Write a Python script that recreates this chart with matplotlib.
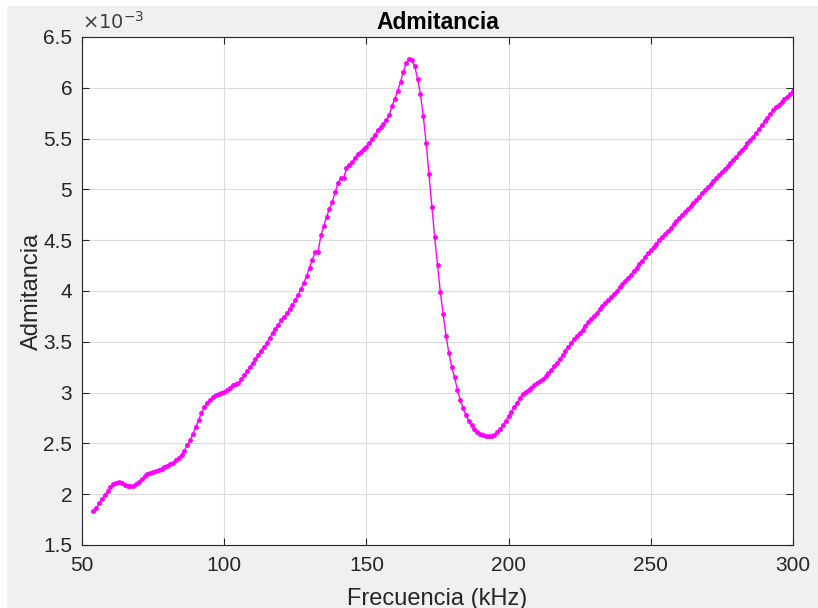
import numpy as np
import matplotlib
matplotlib.use('Agg')
import matplotlib.pyplot as plt
from matplotlib.ticker import FuncFormatter

# Frecuencia en kHz (paso de 1 kHz) y admitancia en unidades de 1e-3
frecuencia = np.arange(54, 301)
admitancia = [
    1.83, 1.86, 1.91, 1.95, 1.99, 2.03, 2.07, 2.10, 2.115, 2.12,          # 54-63
    2.11, 2.09, 2.08, 2.08, 2.085, 2.10, 2.12, 2.15, 2.175, 2.195,        # 64-73
    2.21, 2.215, 2.225, 2.235, 2.25, 2.265, 2.28, 2.295, 2.31, 2.335,     # 74-83
    2.36, 2.39, 2.43, 2.48, 2.53, 2.59, 2.66, 2.73, 2.80, 2.86,           # 84-93
    2.90, 2.93, 2.955, 2.975, 2.99, 3.00, 3.01, 3.03, 3.05, 3.07,         # 94-103
    3.08, 3.09, 3.13, 3.17, 3.21, 3.25, 3.29, 3.33, 3.37, 3.41,           # 104-113
    3.45, 3.49, 3.54, 3.59, 3.63, 3.67, 3.71, 3.74, 3.78, 3.82,           # 114-123
    3.86, 3.91, 3.96, 4.02, 4.08, 4.15, 4.23, 4.31, 4.38, 4.38,           # 124-133
    4.55, 4.64, 4.73, 4.81, 4.88, 4.97, 5.06, 5.11, 5.11, 5.21,           # 134-143
    5.24, 5.27, 5.31, 5.35, 5.37, 5.40, 5.42, 5.46, 5.50, 5.54,           # 144-153
    5.58, 5.61, 5.64, 5.68, 5.73, 5.82, 5.89, 5.97, 6.06, 6.16,           # 154-163
    6.24, 6.28, 6.27, 6.21, 6.09, 5.94, 5.72, 5.46, 5.15, 4.83,           # 164-173
    4.53, 4.26, 3.99, 3.77, 3.56, 3.39, 3.25, 3.15, 3.03, 2.93,           # 174-183
    2.85, 2.78, 2.72, 2.68, 2.64, 2.61, 2.59, 2.58, 2.575, 2.575,         # 184-193
    2.575, 2.58, 2.61, 2.64, 2.68, 2.72, 2.77, 2.81, 2.86, 2.90,          # 194-203
    2.95, 2.99, 3.01, 3.03, 3.05, 3.07, 3.09, 3.11, 3.13, 3.16,           # 204-213
    3.19, 3.22, 3.26, 3.29, 3.33, 3.37, 3.41, 3.45, 3.49, 3.525,          # 214-223
    3.56, 3.59, 3.62, 3.66, 3.69, 3.72, 3.75, 3.78, 3.82, 3.85,           # 224-233
    3.88, 3.91, 3.94, 3.97, 4.00, 4.04, 4.07, 4.10, 4.13, 4.16,           # 234-243
    4.20, 4.23, 4.27, 4.30, 4.33, 4.37, 4.40, 4.43, 4.46, 4.50,           # 244-253
    4.53, 4.56, 4.59, 4.62, 4.66, 4.69, 4.72, 4.75, 4.78, 4.81,           # 254-263
    4.84, 4.87, 4.90, 4.93, 4.96, 4.99, 5.02, 5.05, 5.08, 5.11,           # 264-273
    5.14, 5.17, 5.20, 5.23, 5.26, 5.29, 5.32, 5.355, 5.39, 5.42,          # 274-283
    5.455, 5.49, 5.52, 5.56, 5.59, 5.63, 5.67, 5.70, 5.74, 5.78,          # 284-293
    5.81, 5.83, 5.86, 5.89, 5.91, 5.94, 5.97,                             # 294-300
]

xticks = [50, 100, 150, 200, 250, 300]
yticks = [1.5, 2, 2.5, 3, 3.5, 4, 4.5, 5, 5.5, 6, 6.5]

plt.rcParams['font.family'] = ['Liberation Sans', 'DejaVu Sans']

fig = plt.figure(figsize=(8.18, 6.08), dpi=100)
fig.patch.set_facecolor('white')
# fondo gris estilo MATLAB (borde blanco arriba y a la izquierda)
fig.add_artist(plt.Rectangle((7/818, 0), 1, (608-6)/608, transform=fig.transFigure,
                             facecolor='#f0f0f0', edgecolor='none', zorder=-1))

ax = fig.add_axes([82/818, 1-545/608, (793-82)/818, (545-37)/608])
ax.set_facecolor('white')

ax.plot(frecuencia, admitancia, color='#ff00ff', lw=1.0, marker='.', markersize=5)

ax.set_xlim(50, 300)
ax.set_ylim(1.5, 6.5)
ax.set_xticks(xticks)
ax.set_yticks(yticks)
ax.yaxis.set_major_formatter(FuncFormatter(lambda v, p: '%g' % v))
ax.grid(True, color='#dcdcdc', lw=0.8)
ax.set_axisbelow(True)

ax.tick_params(direction='in', length=5, width=0.8, colors='#262626', labelsize=15,
               top=True, right=True)
ax.tick_params(axis='x', pad=8)
ax.tick_params(axis='y', pad=7)
for s in ax.spines.values():
    s.set_color('#262626')
    s.set_linewidth(0.8)

ax.set_title('Admitancia', fontsize=16.5, fontweight='bold', color='black', pad=6)
ax.set_xlabel('Frecuencia (kHz)', fontsize=17, color='#262626', labelpad=9)
ax.set_ylabel('Admitancia', fontsize=17, color='#262626', labelpad=0)
ax.text(0.0, 1.008, r'$\times10^{-3}$', transform=ax.transAxes, fontsize=14,
        color='#404040', ha='left', va='bottom')

fig.savefig('out.png', dpi=100)
